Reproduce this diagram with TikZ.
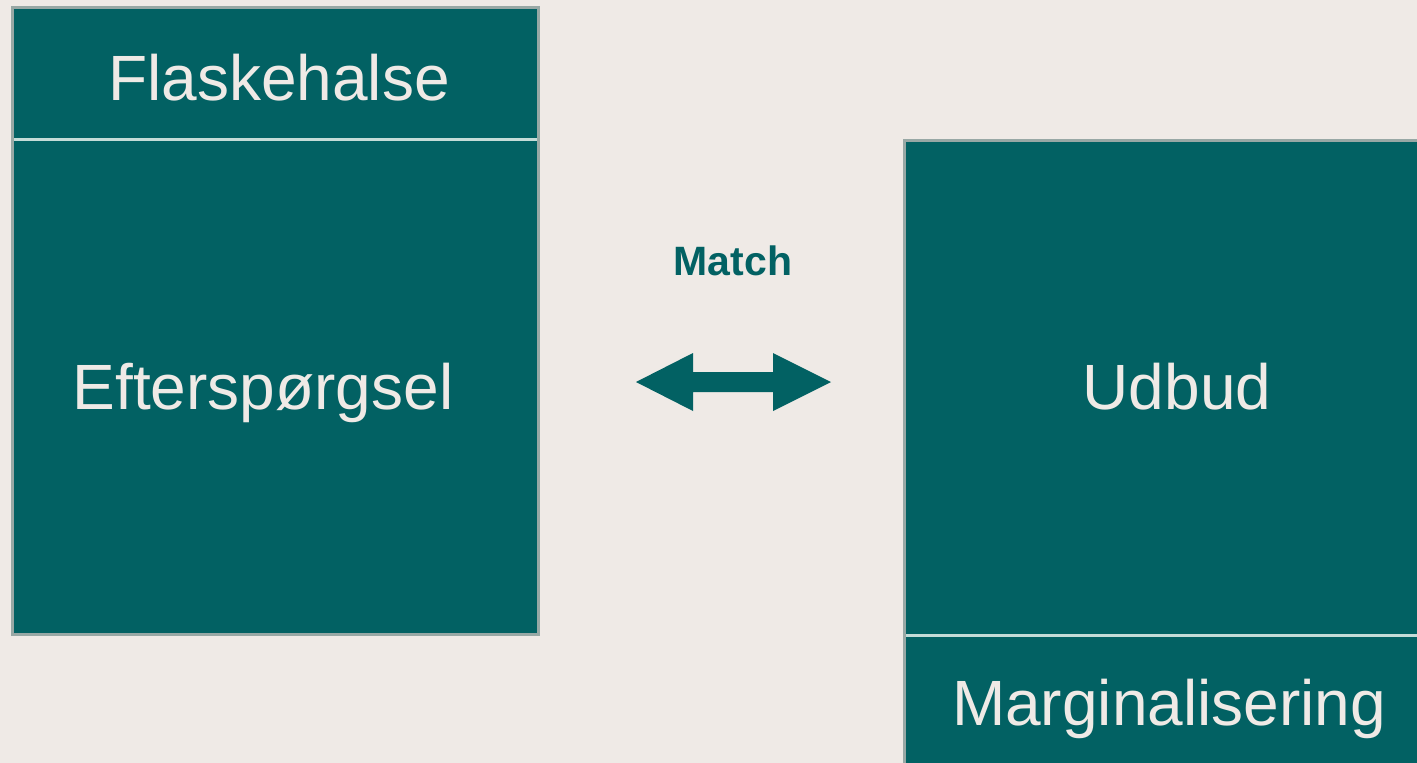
\documentclass[tikz,border=0pt]{standalone}
\usepackage{fontspec}
\setmainfont{Liberation Sans}
\definecolor{bg}{HTML}{EFEAE6}
\definecolor{teal}{HTML}{026163}
\definecolor{edge}{HTML}{98A8A5}
\definecolor{sep}{HTML}{C4DCD8}
\begin{document}
\begin{tikzpicture}[x=1pt,y=-1pt,
  box/.style={fill=teal,draw=edge,line width=3pt},
  sepline/.style={draw=sep,line width=3pt},
  lbl/.style={text=bg,font=\fontsize{64}{70}\selectfont,inner sep=0pt,anchor=base},
  matchlbl/.style={text=teal,font=\bfseries\fontsize{41}{46}\selectfont,inner sep=0pt,anchor=base}]
\useasboundingbox[fill=bg] (0,0) rectangle (1417,763);
% left box
\path[box] (12.5,7.5) rectangle (538.5,634.5);
\path[sepline] (14,139) -- (537,139);
% right box
\path[box] (904.5,140.5) rectangle (1440,780);
\path[sepline] (906,635.5) -- (1417,635.5);
% labels
\node[lbl] (flask) at (279,100) {Flaskehalse};
\node[lbl] (eft) at (263,409) {Efterspørgsel};
\node[lbl] (udb) at (1177,409) {Udbud};
\node[lbl] (marg) at (1169,725) {Marginalisering};
\node[matchlbl] (match) at (733,275) {Match};
% double arrow
\coordinate (aL) at (636,382);
\coordinate (aR) at (831,382);
\fill[teal] (aL) -- (693,353) -- (693,372) -- (773,372) -- (773,353) -- (aR)
  -- (773,411) -- (773,392) -- (693,392) -- (693,411) -- cycle;
\end{tikzpicture}
\end{document}
